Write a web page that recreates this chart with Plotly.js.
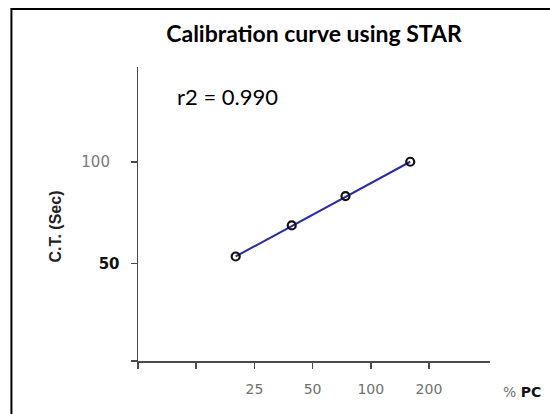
<!DOCTYPE html>
<html>
<head>
<meta charset="utf-8">
<script src="https://cdn.plot.ly/plotly-3.0.1.min.js"></script>
<style>html,body{margin:0;padding:0;background:#fff;}#chart{width:550px;height:414px;}</style>
</head>
<body>
<div id="chart"></div>
<script>
// Data
var pcPercent = [20, 39, 74, 160];
var clotTime = [53.4, 68.7, 83.1, 100.0];
var fitX = [20, 160];
var fitY = [53.4, 100.0];
var xTickVals = [6.25, 12.5, 25, 50, 100, 200];
var xTickText = ['', '', '25', '50', '100', '200'];
var yTickVals = [2, 50, 100];
var yTickText = ['', '<b>50</b>', '<span style="color:#7a7a7a">100</span>\u00a0\u00a0'];
var r2Text = 'r2 = 0.990';

var traces = [
  {x: fitX, y: fitY, mode: 'lines', type: 'scatter',
   line: {color: '#2b2ba8', width: 2}, hoverinfo: 'skip', showlegend: false},
  {x: pcPercent, y: clotTime, mode: 'markers', type: 'scatter',
   marker: {symbol: 'circle-open', size: 8, color: '#111', line: {width: 2.2, color: '#111'}},
   showlegend: false}
];

var layout = {
  width: 550, height: 414,
  margin: {l: 138, r: 60, t: 67, b: 53, pad: 0},
  paper_bgcolor: '#fff', plot_bgcolor: '#fff',
  showlegend: false,
  title: {text: '<b>Calibration curve using STAR</b>', x: 314/550, xref: 'container', xanchor: 'center',
          y: 1 - 34/414, yref: 'container', yanchor: 'middle',
          font: {family: 'Lato, "Open Sans", sans-serif', size: 23, color: '#000'}},
  xaxis: {type: 'log', range: [Math.log10(6.25), Math.log10(413.7)],
          tickmode: 'array', tickvals: xTickVals, ticktext: xTickText,
          showgrid: false, zeroline: false, showline: true, linecolor: '#4a4a4a', linewidth: 1.5,
          ticks: 'outside', ticklen: 6, tickwidth: 1.5, tickcolor: '#4a4a4a',
          ticklabelstandoff: 9,
          tickfont: {family: '"DejaVu Sans", Verdana, sans-serif', size: 14, color: '#707070'}},
  yaxis: {range: [2, 146.6], tickmode: 'array', tickvals: yTickVals, ticktext: yTickText,
          showgrid: false, zeroline: false, showline: true, linecolor: '#4a4a4a', linewidth: 1.5,
          ticks: 'outside', ticklen: 6, tickwidth: 1.5, tickcolor: '#4a4a4a',
          ticklabelstandoff: 8,
          tickfont: {family: '"DejaVu Sans", Verdana, sans-serif', size: 15, color: '#111'}},
  annotations: [
    {text: r2Text, xref: 'paper', yref: 'paper', x: 0.255, y: 0.901, xanchor: 'center', yanchor: 'middle',
     showarrow: false, font: {family: 'Lato, "Open Sans", sans-serif', size: 22, color: '#000'}},
    {text: '<b>C.T. (Sec)</b>', xref: 'paper', yref: 'paper', x: -0.2347, y: 0.4586, textangle: -90,
     xanchor: 'center', yanchor: 'middle', showarrow: false,
     font: {family: '"Liberation Sans", Arial, sans-serif', size: 16, color: '#222'}},
    {text: '<span style="color:#707070">%</span> <b>PC</b>', xref: 'paper', yref: 'paper', x: 1.0908, y: -0.1066,
     xanchor: 'center', yanchor: 'middle', showarrow: false,
     font: {family: '"DejaVu Sans", Verdana, sans-serif', size: 14, color: '#111'}}
  ],
  shapes: [
    {type: 'rect', xref: 'paper', yref: 'paper', x0: -0.3596, x1: 1.25, y0: -0.25, y1: 1.1975,
     line: {color: '#000', width: 2}, fillcolor: 'rgba(0,0,0,0)', layer: 'below'}
  ]
};

Plotly.newPlot('chart', traces, layout, {displayModeBar: false, staticPlot: true});
</script>
</body>
</html>
